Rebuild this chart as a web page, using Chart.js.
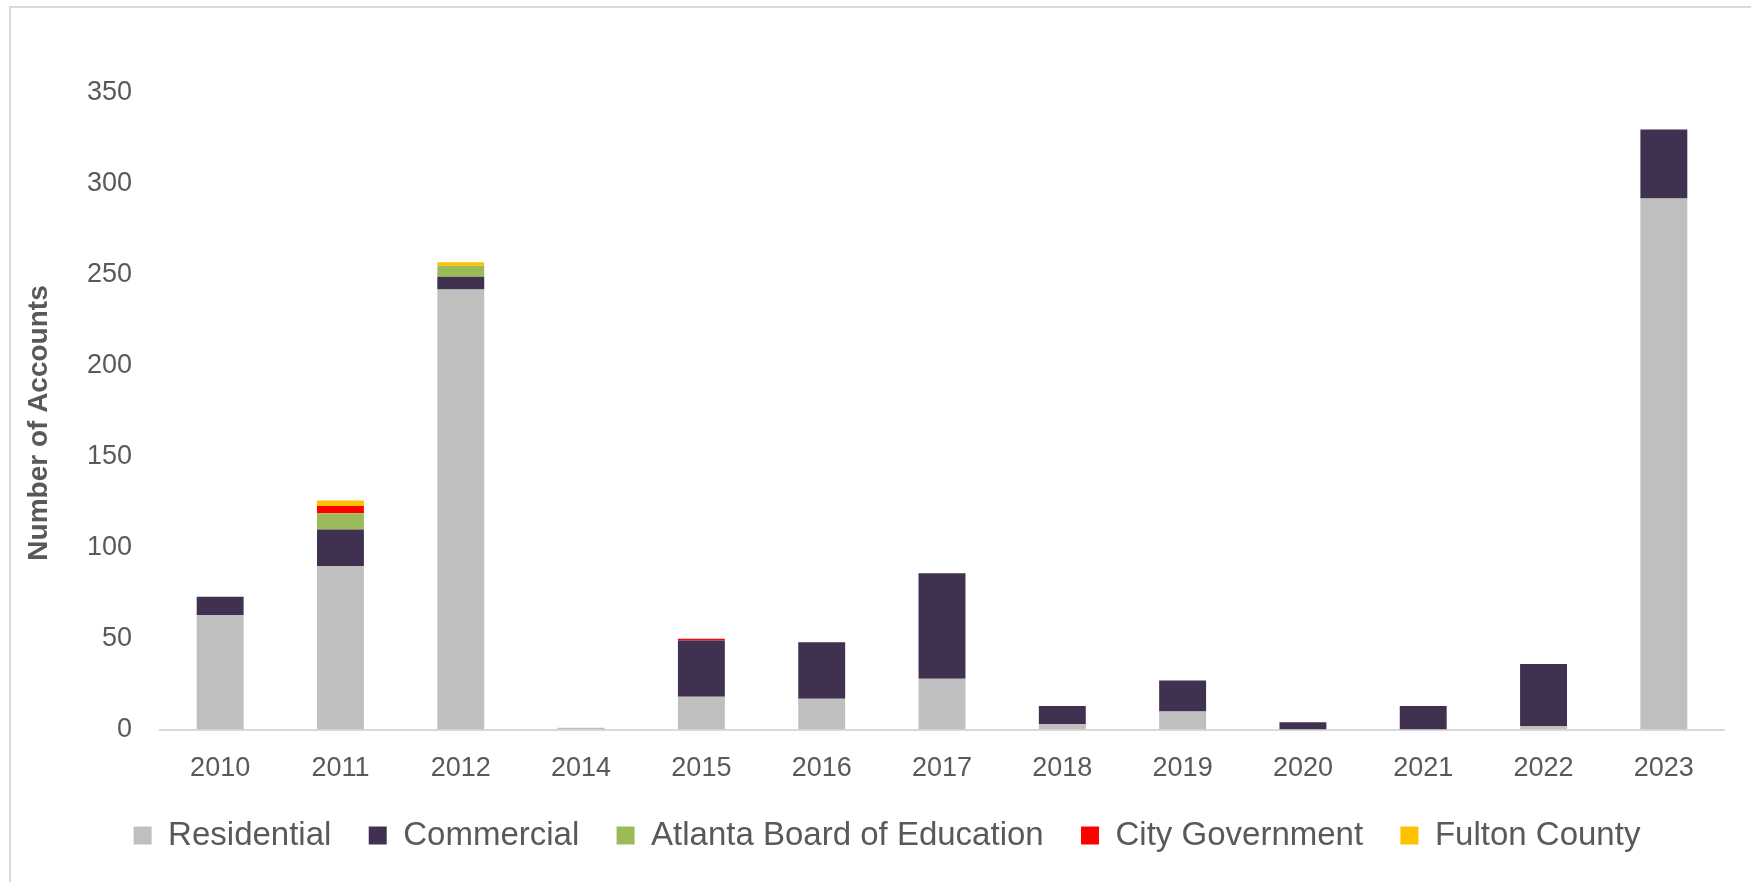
<!DOCTYPE html>
<html>
<head>
<meta charset="utf-8">
<script src="https://cdn.jsdelivr.net/npm/chart.js@4"></script>
<style>
  html, body { margin: 0; padding: 0; background: #fff; }
  #frame {
    position: absolute; left: 9px; top: 6px; width: 1760px; height: 900px;
    border-left: 2px solid #d9d9d9; border-top: 2px solid #d9d9d9;
  }
  #wrap { position: absolute; left: 0; top: 0; width: 1751px; height: 882px; }
</style>
</head>
<body>
<div id="frame"></div>
<div id="wrap"><canvas id="myChart" width="1751" height="882"></canvas></div>
<script>
const years = ["2010", "2011", "2012", "2014", "2015", "2016", "2017", "2018", "2019", "2020", "2021", "2022", "2023"];
const residential = [63, 90, 242, 1, 18, 17, 28, 3, 10, 0, 0, 2, 292];
const commercial = [10, 20, 7, 0, 31, 31, 58, 10, 17, 4, 13, 34, 38];
const boardOfEducation = [0, 9, 6, 0, 0, 0, 0, 0, 0, 0, 0, 0, 0];
const cityGovernment = [0, 4, 0, 0, 1, 0, 0, 0, 0, 0, 0, 0, 0];
const fultonCounty = [0, 3, 2, 0, 0, 0, 0, 0, 0, 0, 0, 0, 0];

const textColor = "#595959";
const fontFamily = "'Liberation Sans', Arial, sans-serif";

function makeSet(label, data, color) {
    return {
        label: label,
        data: data,
        backgroundColor: color,
        borderWidth: 0,
        barPercentage: 0.39,
        categoryPercentage: 1.0
    };
}

const ctx = document.getElementById("myChart").getContext("2d");
const myChart = new Chart(ctx, {
    type: "bar",
    data: {
        labels: years,
        datasets: [
            makeSet("Residential", residential, "#bfbfbf"),
            makeSet("Commercial", commercial, "#403151"),
            makeSet("Atlanta Board of Education", boardOfEducation, "#9bbb59"),
            makeSet("City Government", cityGovernment, "#ff0000"),
            makeSet("Fulton County", fultonCounty, "#ffc000")
        ]
    },
    options: {
        responsive: false,
        animation: false,
        layout: { padding: { left: 50, right: 27, top: 93, bottom: 20 } },
        plugins: {
            legend: {
                position: "bottom",
                labels: {
                    boxWidth: 18,
                    boxHeight: 18,
                    padding: 19,
                    color: textColor,
                    font: { family: fontFamily, size: 33 },
                    // extra spacing between legend entries
                    generateLabels: function (chart) {
                        const items = Chart.defaults.plugins.legend.labels.generateLabels(chart);
                        items.forEach((it, i) => {
                            if (i < items.length - 1) it.text = it.text + "  ";
                        });
                        return items;
                    }
                }
            },
            tooltip: { enabled: false }
        },
        scales: {
            x: {
                stacked: true,
                grid: { display: false },
                border: { display: true, color: "#d9d9d9", width: 2 },
                ticks: {
                    color: textColor,
                    padding: 15,
                    font: { family: fontFamily, size: 27 }
                }
            },
            y: {
                stacked: true,
                min: 0,
                max: 350,
                afterFit: function (scale) { scale.width = 110; },
                grid: { display: false, drawTicks: false },
                border: { display: false },
                ticks: {
                    stepSize: 50,
                    color: textColor,
                    padding: 28,
                    font: { family: fontFamily, size: 27 }
                },
                title: {
                    display: true,
                    text: "Number of Accounts   ",
                    color: textColor,
                    padding: { top: -28, bottom: 0 },
                    font: { family: fontFamily, size: 28, weight: "bold" }
                }
            }
        }
    }
});
</script>
</body>
</html>
